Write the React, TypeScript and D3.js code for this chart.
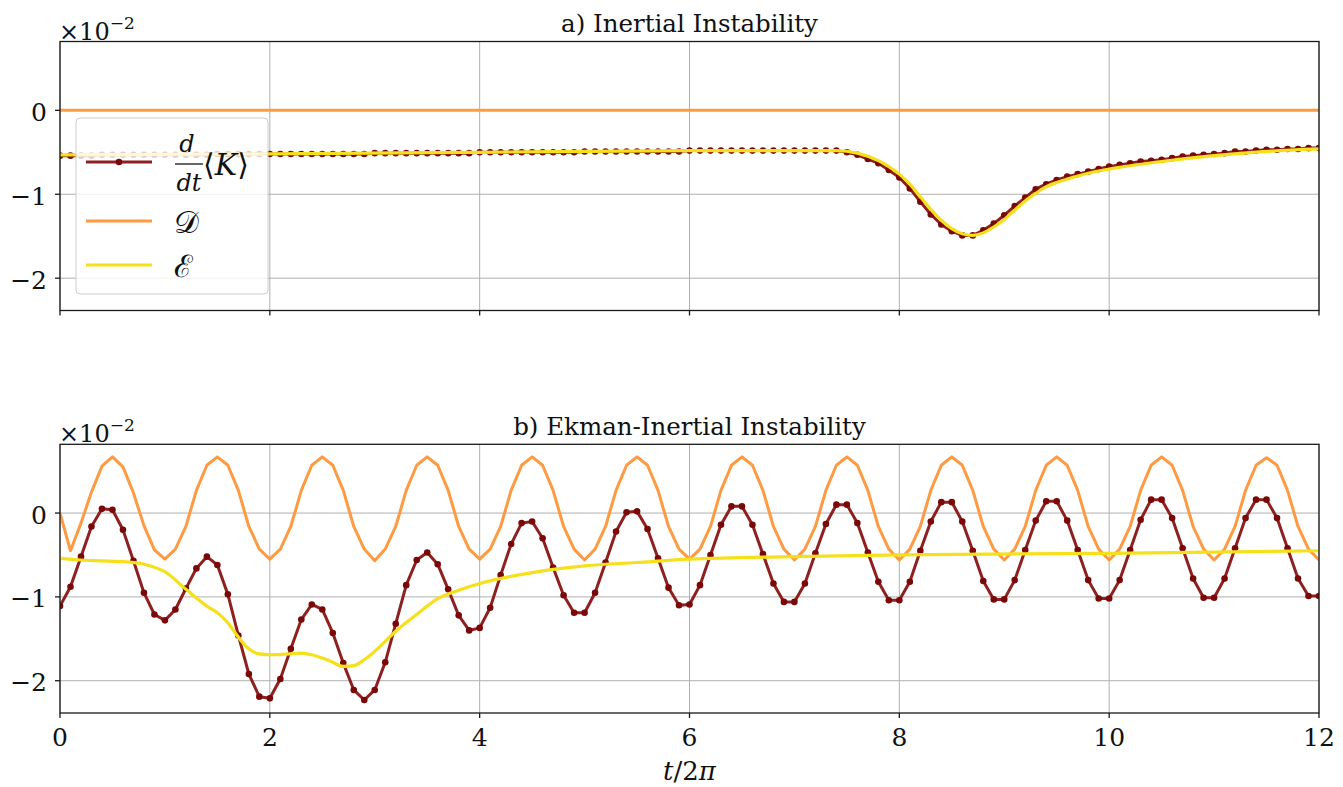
import React from "react";
import * as d3 from "d3";

// time grid (t / 2π), sampled every 0.1
const timeGrid: number[] = d3.range(0, 121).map((i) => +(i / 10).toFixed(1));

// ---- Panel a: Inertial Instability (values ×10^-2) ----
const aKdot: number[] = [
  -0.54, -0.54, -0.54, -0.54, -0.53, -0.53, -0.53, -0.53, -0.53, -0.53,
  -0.53, -0.53, -0.53, -0.53, -0.53, -0.52, -0.52, -0.52, -0.52, -0.52,
  -0.52, -0.52, -0.52, -0.52, -0.52, -0.52, -0.52, -0.52, -0.52, -0.52,
  -0.51, -0.51, -0.51, -0.51, -0.51, -0.51, -0.51, -0.51, -0.51, -0.51,
  -0.5, -0.5, -0.5, -0.5, -0.5, -0.5, -0.5, -0.5, -0.5, -0.5,
  -0.49, -0.49, -0.49, -0.49, -0.49, -0.49, -0.49, -0.49, -0.49, -0.49,
  -0.48, -0.48, -0.48, -0.48, -0.48, -0.48, -0.48, -0.48, -0.48, -0.48,
  -0.48, -0.48, -0.48, -0.48, -0.48, -0.5, -0.53, -0.58, -0.63, -0.71,
  -0.8, -0.93, -1.09, -1.24, -1.36, -1.44, -1.49, -1.49, -1.43, -1.35,
  -1.25, -1.14, -1.04, -0.94, -0.88, -0.83, -0.79, -0.76, -0.73, -0.7,
  -0.67, -0.65, -0.63, -0.61, -0.6, -0.59, -0.57, -0.55, -0.54, -0.53,
  -0.52, -0.51, -0.49, -0.49, -0.48, -0.47, -0.47, -0.46, -0.46, -0.45,
  -0.45,
];
const aDissT: number[] = [0, 12];
const aDissV: number[] = [0, 0];
const aEkmT: number[] = [0, 2, 4, 6, 7.4, 7.6, 7.8, 7.9, 8.0, 8.1, 8.2, 8.3, 8.4, 8.5, 8.6, 8.7, 8.8, 8.9, 9.0, 9.1, 9.2, 9.3, 9.4, 9.5, 9.6, 9.8, 10.0, 10.5, 11.0, 11.5, 12.0];
const aEkmV: number[] = [-0.53, -0.52, -0.5, -0.48, -0.48, -0.51, -0.6, -0.67, -0.76, -0.88, -1.03, -1.18, -1.31, -1.41, -1.47, -1.49, -1.46, -1.39, -1.3, -1.19, -1.08, -0.99, -0.91, -0.86, -0.82, -0.75, -0.7, -0.61, -0.54, -0.49, -0.46];

// ---- Panel b: Ekman-Inertial Instability (values ×10^-2) ----
const bKdot: number[] = [
  -1.11, -0.88, -0.52, -0.16, 0.05, 0.04, -0.2, -0.57, -0.95, -1.21,
  -1.28, -1.15, -0.9, -0.66, -0.52, -0.62, -0.97, -1.46, -1.92, -2.19,
  -2.21, -1.98, -1.62, -1.27, -1.09, -1.15, -1.43, -1.79, -2.11, -2.23,
  -2.11, -1.78, -1.32, -0.86, -0.56, -0.47, -0.61, -0.91, -1.22, -1.4,
  -1.37, -1.13, -0.74, -0.37, -0.12, -0.1, -0.3, -0.65, -0.98, -1.19,
  -1.19, -0.95, -0.59, -0.22, 0.01, 0.02, -0.19, -0.54, -0.89, -1.1,
  -1.09, -0.86, -0.5, -0.14, 0.08, 0.08, -0.14, -0.49, -0.84, -1.06,
  -1.06, -0.84, -0.48, -0.13, 0.1, 0.1, -0.12, -0.47, -0.82, -1.04,
  -1.04, -0.82, -0.45, -0.1, 0.13, 0.13, -0.1, -0.45, -0.81, -1.03,
  -1.03, -0.8, -0.44, -0.09, 0.14, 0.14, -0.09, -0.44, -0.8, -1.02,
  -1.02, -0.8, -0.44, -0.08, 0.16, 0.16, -0.06, -0.42, -0.78, -1.01,
  -1.01, -0.78, -0.42, -0.06, 0.16, 0.16, -0.06, -0.42, -0.78, -0.99,
  -0.99,
];
const bDiss: number[] = [
  0, -0.45, -0.12, 0.25, 0.56, 0.67, 0.55, 0.24, -0.15, -0.44,
  -0.55, -0.43, -0.16, 0.27, 0.57, 0.67, 0.57, 0.27, -0.16, -0.43,
  -0.55, -0.43, -0.16, 0.27, 0.57, 0.67, 0.57, 0.27, -0.16, -0.43,
  -0.57, -0.43, -0.16, 0.27, 0.57, 0.67, 0.57, 0.27, -0.16, -0.43,
  -0.55, -0.43, -0.16, 0.27, 0.57, 0.67, 0.57, 0.27, -0.16, -0.43,
  -0.56, -0.43, -0.16, 0.27, 0.57, 0.67, 0.57, 0.27, -0.16, -0.43,
  -0.55, -0.43, -0.16, 0.27, 0.57, 0.67, 0.57, 0.27, -0.16, -0.43,
  -0.56, -0.43, -0.16, 0.27, 0.57, 0.67, 0.57, 0.27, -0.16, -0.43,
  -0.56, -0.43, -0.16, 0.27, 0.57, 0.67, 0.57, 0.27, -0.16, -0.43,
  -0.56, -0.43, -0.16, 0.27, 0.57, 0.67, 0.57, 0.27, -0.16, -0.43,
  -0.56, -0.43, -0.16, 0.27, 0.57, 0.67, 0.57, 0.27, -0.16, -0.43,
  -0.56, -0.43, -0.16, 0.27, 0.57, 0.66, 0.57, 0.27, -0.16, -0.43,
  -0.56,
];
const bEkmT: number[] = [0, 0.2, 0.4, 0.6, 0.8, 1.0, 1.2, 1.4, 1.5, 1.6, 1.7, 1.8, 1.9, 2.0, 2.2, 2.3, 2.4, 2.5, 2.6, 2.7, 2.8, 2.9, 3.0, 3.2, 3.4, 3.6, 3.8, 4.0, 4.5, 5.0, 5.5, 6.0, 7.0, 8.0, 10.0, 12.0];
const bEkmV: number[] = [-0.54, -0.56, -0.57, -0.58, -0.61, -0.7, -0.91, -1.11, -1.19, -1.31, -1.48, -1.62, -1.68, -1.69, -1.68, -1.67, -1.69, -1.73, -1.78, -1.83, -1.82, -1.75, -1.65, -1.41, -1.21, -1.02, -0.92, -0.84, -0.71, -0.63, -0.59, -0.55, -0.52, -0.5, -0.48, -0.45];

const xTicks: number[] = [0, 2, 4, 6, 8, 10, 12];
const yTicks: number[] = [0, -1, -2];
const titles: string[] = ["a) Inertial Instability", "b) Ekman-Inertial Instability"];

const COL_K = "#8e2020";
const COL_KM = "#7a0808";
const COL_D = "#fd9a42";
const COL_E = "#f6e01c";
const FONT = "'DejaVu Serif', serif";
const TXT = "#111";

const W = 1343;
const H = 787;
const X0 = 60;
const X1 = 1319;
const panels = [
  { top: 41.5, bottom: 310.5 },
  { top: 444.3, bottom: 713 },
];

const x = d3.scaleLinear().domain([0, 12]).range([X0, X1]);

type Pt = [number, number];

function Panel({ idx }: { idx: number }) {
  const p = panels[idx];
  const y = d3.scaleLinear().domain([-2.385, 0.82]).range([p.bottom, p.top]);
  const lin = d3.line<Pt>().x((d) => x(d[0])).y((d) => y(d[1]));
  const smooth = d3.line<Pt>().x((d) => x(d[0])).y((d) => y(d[1])).curve(d3.curveMonotoneX);

  const kPts: Pt[] = (idx === 0 ? aKdot : bKdot).map((v, i) => [timeGrid[i], v]);
  const dPts: Pt[] = idx === 0 ? aDissT.map((t, i) => [t, aDissV[i]]) : bDiss.map((v, i) => [timeGrid[i], v]);
  const ePts: Pt[] = idx === 0 ? aEkmT.map((t, i) => [t, aEkmV[i]]) : bEkmT.map((t, i) => [t, bEkmV[i]]);
  const clipId = `clip${idx}`;

  return (
    <g>
      <defs>
        <clipPath id={clipId}>
          <rect x={X0} y={p.top} width={X1 - X0} height={p.bottom - p.top} />
        </clipPath>
      </defs>
      {xTicks.map((t) => (
        <line key={"gx" + t} x1={x(t)} x2={x(t)} y1={p.top} y2={p.bottom} stroke="#b0b0b0" strokeWidth={1} />
      ))}
      {yTicks.map((v) => (
        <line key={"gy" + v} x1={X0} x2={X1} y1={y(v)} y2={y(v)} stroke="#b0b0b0" strokeWidth={1} />
      ))}
      <g clipPath={`url(#${clipId})`}>
        <path d={lin(kPts) || ""} fill="none" stroke={COL_K} strokeWidth={3} strokeLinejoin="round" />
        {kPts.map((d, i) => (
          <circle key={i} cx={x(d[0])} cy={y(d[1])} r={3.3} fill={COL_KM} />
        ))}
        <path d={lin(dPts) || ""} fill="none" stroke={COL_D} strokeWidth={3} strokeLinejoin="round" />
        <path d={smooth(ePts) || ""} fill="none" stroke={COL_E} strokeWidth={3.2} strokeLinejoin="round" />
      </g>
      <rect x={X0} y={p.top} width={X1 - X0} height={p.bottom - p.top} fill="none" stroke="#1a1a1a" strokeWidth={1.3} />
      {xTicks.map((t) => (
        <line key={"tx" + t} x1={x(t)} x2={x(t)} y1={p.bottom} y2={p.bottom + 5} stroke="#1a1a1a" strokeWidth={1.3} />
      ))}
      {yTicks.map((v) => (
        <line key={"ty" + v} x1={X0 - 5} x2={X0} y1={y(v)} y2={y(v)} stroke="#1a1a1a" strokeWidth={1.3} />
      ))}
      {yTicks.map((v) => (
        <text key={"ly" + v} x={X0 - 13} y={y(v) + 10.5} textAnchor="end" fontFamily={FONT} fontSize={25} fill={TXT}>
          {v < 0 ? "\u2212" + Math.abs(v) : String(v)}
        </text>
      ))}
      {idx === 1 &&
        xTicks.map((t) => (
          <text key={"lx" + t} x={x(t)} y={p.bottom + 33} textAnchor="middle" fontFamily={FONT} fontSize={25} fill={TXT}>
            {t}
          </text>
        ))}
      <text x={X0 - 1} y={p.top - 2} fontFamily={FONT} fontSize={24} fill={TXT}>
        ×10
        <tspan dy={-11} fontSize={17}>
          {"\u2212"}2
        </tspan>
      </text>
      <text x={(X0 + X1) / 2} y={p.top - 9.5} textAnchor="middle" fontFamily={FONT} fontSize={24.5} fill={TXT}>
        {titles[idx]}
      </text>
      {idx === 1 && (
        <text x={(X0 + X1) / 2} y={780} textAnchor="middle" fontFamily={FONT} fontSize={26} fill={TXT}>
          <tspan fontStyle="italic">t</tspan>/2<tspan fontStyle="italic">π</tspan>
        </text>
      )}
      {idx === 0 && <Legend />}
    </g>
  );
}

function Legend() {
  const lx0 = 86;
  const lx1 = 152;
  return (
    <g>
      <rect x={76} y={118} width={192} height={176} rx={4} fill="#ffffff" fillOpacity={0.8} stroke="#cccccc" strokeWidth={1} />
      <line x1={lx0} x2={lx1} y1={162} y2={162} stroke={COL_K} strokeWidth={3} />
      <circle cx={(lx0 + lx1) / 2} cy={162} r={3.3} fill={COL_KM} />
      <text x={187} y={152} textAnchor="middle" fontFamily={FONT} fontStyle="italic" fontSize={24} fill={TXT}>
        d
      </text>
      <line x1={175} x2={203} y1={164} y2={164} stroke={TXT} strokeWidth={1.3} />
      <text x={189} y={191} textAnchor="middle" fontFamily={FONT} fontStyle="italic" fontSize={24} fill={TXT}>
        dt
      </text>
      <text x={203} y={175} fontFamily={FONT} fontSize={30} fill={TXT}>
        ⟨<tspan fontStyle="italic">K</tspan>⟩
      </text>
      <line x1={lx0} x2={lx1} y1={221} y2={221} stroke={COL_D} strokeWidth={3} />
      <text x={174} y={233} fontFamily={FONT} fontSize={31} fill={TXT}>
        𝒟
      </text>
      <line x1={lx0} x2={lx1} y1={265} y2={265} stroke={COL_E} strokeWidth={3.2} />
      <text x={174} y={277} fontFamily={FONT} fontSize={31} fill={TXT}>
        ℰ
      </text>
    </g>
  );
}

export default function App() {
  return (
    <svg width={W} height={H} viewBox={`0 0 ${W} ${H}`} style={{ position: "absolute", left: 0, top: 0, background: "#fff" }}>
      <rect x={0} y={0} width={W} height={H} fill="#fff" />
      <Panel idx={0} />
      <Panel idx={1} />
    </svg>
  );
}
